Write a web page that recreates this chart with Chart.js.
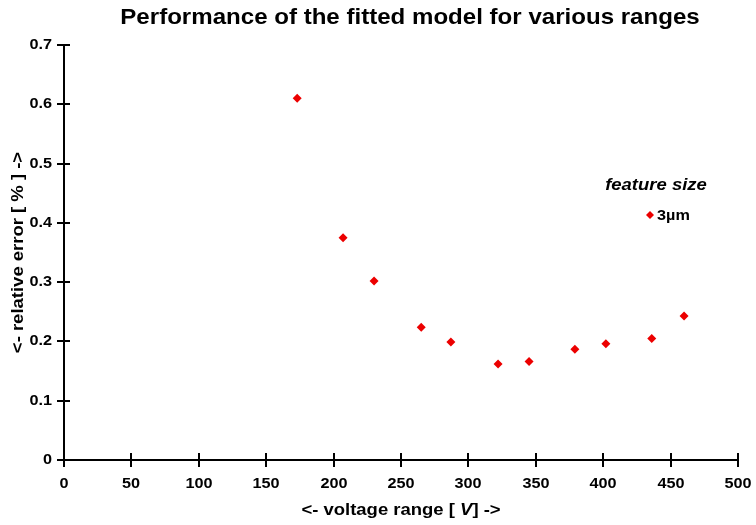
<!DOCTYPE html>
<html>
<head>
<meta charset="utf-8">
<script src="https://cdn.jsdelivr.net/npm/chart.js@4"></script>
<style>
  html, body { margin: 0; padding: 0; background: #fff; }
  #wrap { width: 756px; height: 525px; }
</style>
</head>
<body>
<div id="wrap"><canvas id="c" width="756" height="525"></canvas></div>
<script>
// Voltage range [V] and relative error [%] of the fitted model
const voltageRange = [173, 207, 230, 265, 287, 322, 345, 379, 402, 436, 460];
const relativeError = [0.610, 0.375, 0.302, 0.224, 0.199, 0.162, 0.166, 0.187, 0.196, 0.205, 0.243];
const seriesName = '3µm';
const legendTitle = 'feature size';
const xTicks = [0, 50, 100, 150, 200, 250, 300, 350, 400, 450, 500];
const yTicks = [0, 0.1, 0.2, 0.3, 0.4, 0.5, 0.6, 0.7];

const FONT = '"Liberation Sans", Arial, sans-serif';
const RED = 'rgb(236,0,0)';
const WIDEN = 1.12; // text is set slightly wide

// draw text widened horizontally around its anchor
function wideText(ctx, text, x, y, font, align) {
  ctx.save();
  ctx.font = font;
  ctx.textAlign = align;
  ctx.textBaseline = 'middle';
  ctx.translate(x, y);
  ctx.scale(WIDEN, 1);
  ctx.fillText(text, 0, 0);
  ctx.restore();
}

// Ticks crossing both axes, tick labels, titles and the legend box
const decorations = {
  id: 'decorations',
  afterDraw(chart) {
    const ctx = chart.ctx;
    const xs = chart.scales.x, ys = chart.scales.y;
    const ca = chart.chartArea;
    ctx.save();
    ctx.strokeStyle = '#000';
    ctx.fillStyle = '#000';
    ctx.lineWidth = 2;
    const tickFont = 'bold 14.5px ' + FONT;
    xs.ticks.forEach(t => {
      const px = Math.round(xs.getPixelForValue(t.value));
      ctx.beginPath(); ctx.moveTo(px, ca.bottom - 7); ctx.lineTo(px, ca.bottom + 7); ctx.stroke();
      wideText(ctx, String(t.value), px, 484, tickFont, 'center');
    });
    ys.ticks.forEach(t => {
      const py = Math.round(ys.getPixelForValue(t.value));
      ctx.beginPath(); ctx.moveTo(ca.left - 7, py); ctx.lineTo(ca.left + 6, py); ctx.stroke();
      wideText(ctx, String(Math.round(t.value * 10) / 10), 52, py, tickFont, 'right');
    });

    // chart title
    wideText(ctx, 'Performance of the fitted model for various ranges', 410, 18, 'bold 21.5px ' + FONT, 'center');

    // x axis title with italic unit
    const axFont = ' 16.5px ' + FONT;
    const parts = [['<- voltage range [ ', 'bold'], ['V', 'bold italic'], ['] ->', 'bold']];
    let total = 0;
    parts.forEach(p => { ctx.font = p[1] + axFont; total += ctx.measureText(p[0]).width * WIDEN; });
    let x = (ca.left + ca.right) / 2 - total / 2;
    parts.forEach(p => {
      wideText(ctx, p[0], x, 510, p[1] + axFont, 'left');
      ctx.font = p[1] + axFont;
      x += ctx.measureText(p[0]).width * WIDEN;
    });

    // y axis title
    ctx.save();
    ctx.translate(18, (ca.top + ca.bottom) / 2);
    ctx.rotate(-Math.PI / 2);
    wideText(ctx, '<- relative error [ % ] ->', 0, 0, 'bold' + axFont, 'center');
    ctx.restore();

    // legend
    wideText(ctx, legendTitle, 656, 185, 'italic bold 16.5px ' + FONT, 'center');
    ctx.fillStyle = RED;
    ctx.beginPath();
    ctx.moveTo(650, 211); ctx.lineTo(654, 215); ctx.lineTo(650, 219); ctx.lineTo(646, 215);
    ctx.closePath(); ctx.fill();
    ctx.fillStyle = '#000';
    wideText(ctx, seriesName, 657, 216, 'bold 14.5px ' + FONT, 'left');
    ctx.restore();
  }
};

new Chart(document.getElementById('c'), {
  type: 'scatter',
  data: {
    datasets: [{
      label: seriesName,
      data: voltageRange.map((v, i) => ({ x: v, y: relativeError[i] })),
      pointStyle: 'rectRot',
      pointRadius: 4.5,
      pointBackgroundColor: RED,
      pointBorderColor: RED,
      pointBorderWidth: 0
    }]
  },
  options: {
    responsive: false,
    animation: false,
    layout: { padding: { top: 45, right: 18, left: 0, bottom: 0 } },
    plugins: { legend: { display: false }, title: { display: false }, tooltip: { enabled: false } },
    scales: {
      x: {
        type: 'linear', min: 0, max: 500,
        afterBuildTicks: s => { s.ticks = xTicks.map(v => ({ value: v })); },
        afterFit: s => { s.height = 65; },
        grid: { display: false },
        border: { display: true, color: '#000', width: 2 },
        ticks: { display: false }
      },
      y: {
        type: 'linear', min: 0, max: 0.7,
        afterBuildTicks: s => { s.ticks = yTicks.map(v => ({ value: v })); },
        afterFit: s => { s.width = 64; },
        grid: { display: false },
        border: { display: true, color: '#000', width: 2 },
        ticks: { display: false }
      }
    }
  },
  plugins: [decorations]
});
</script>
</body>
</html>
